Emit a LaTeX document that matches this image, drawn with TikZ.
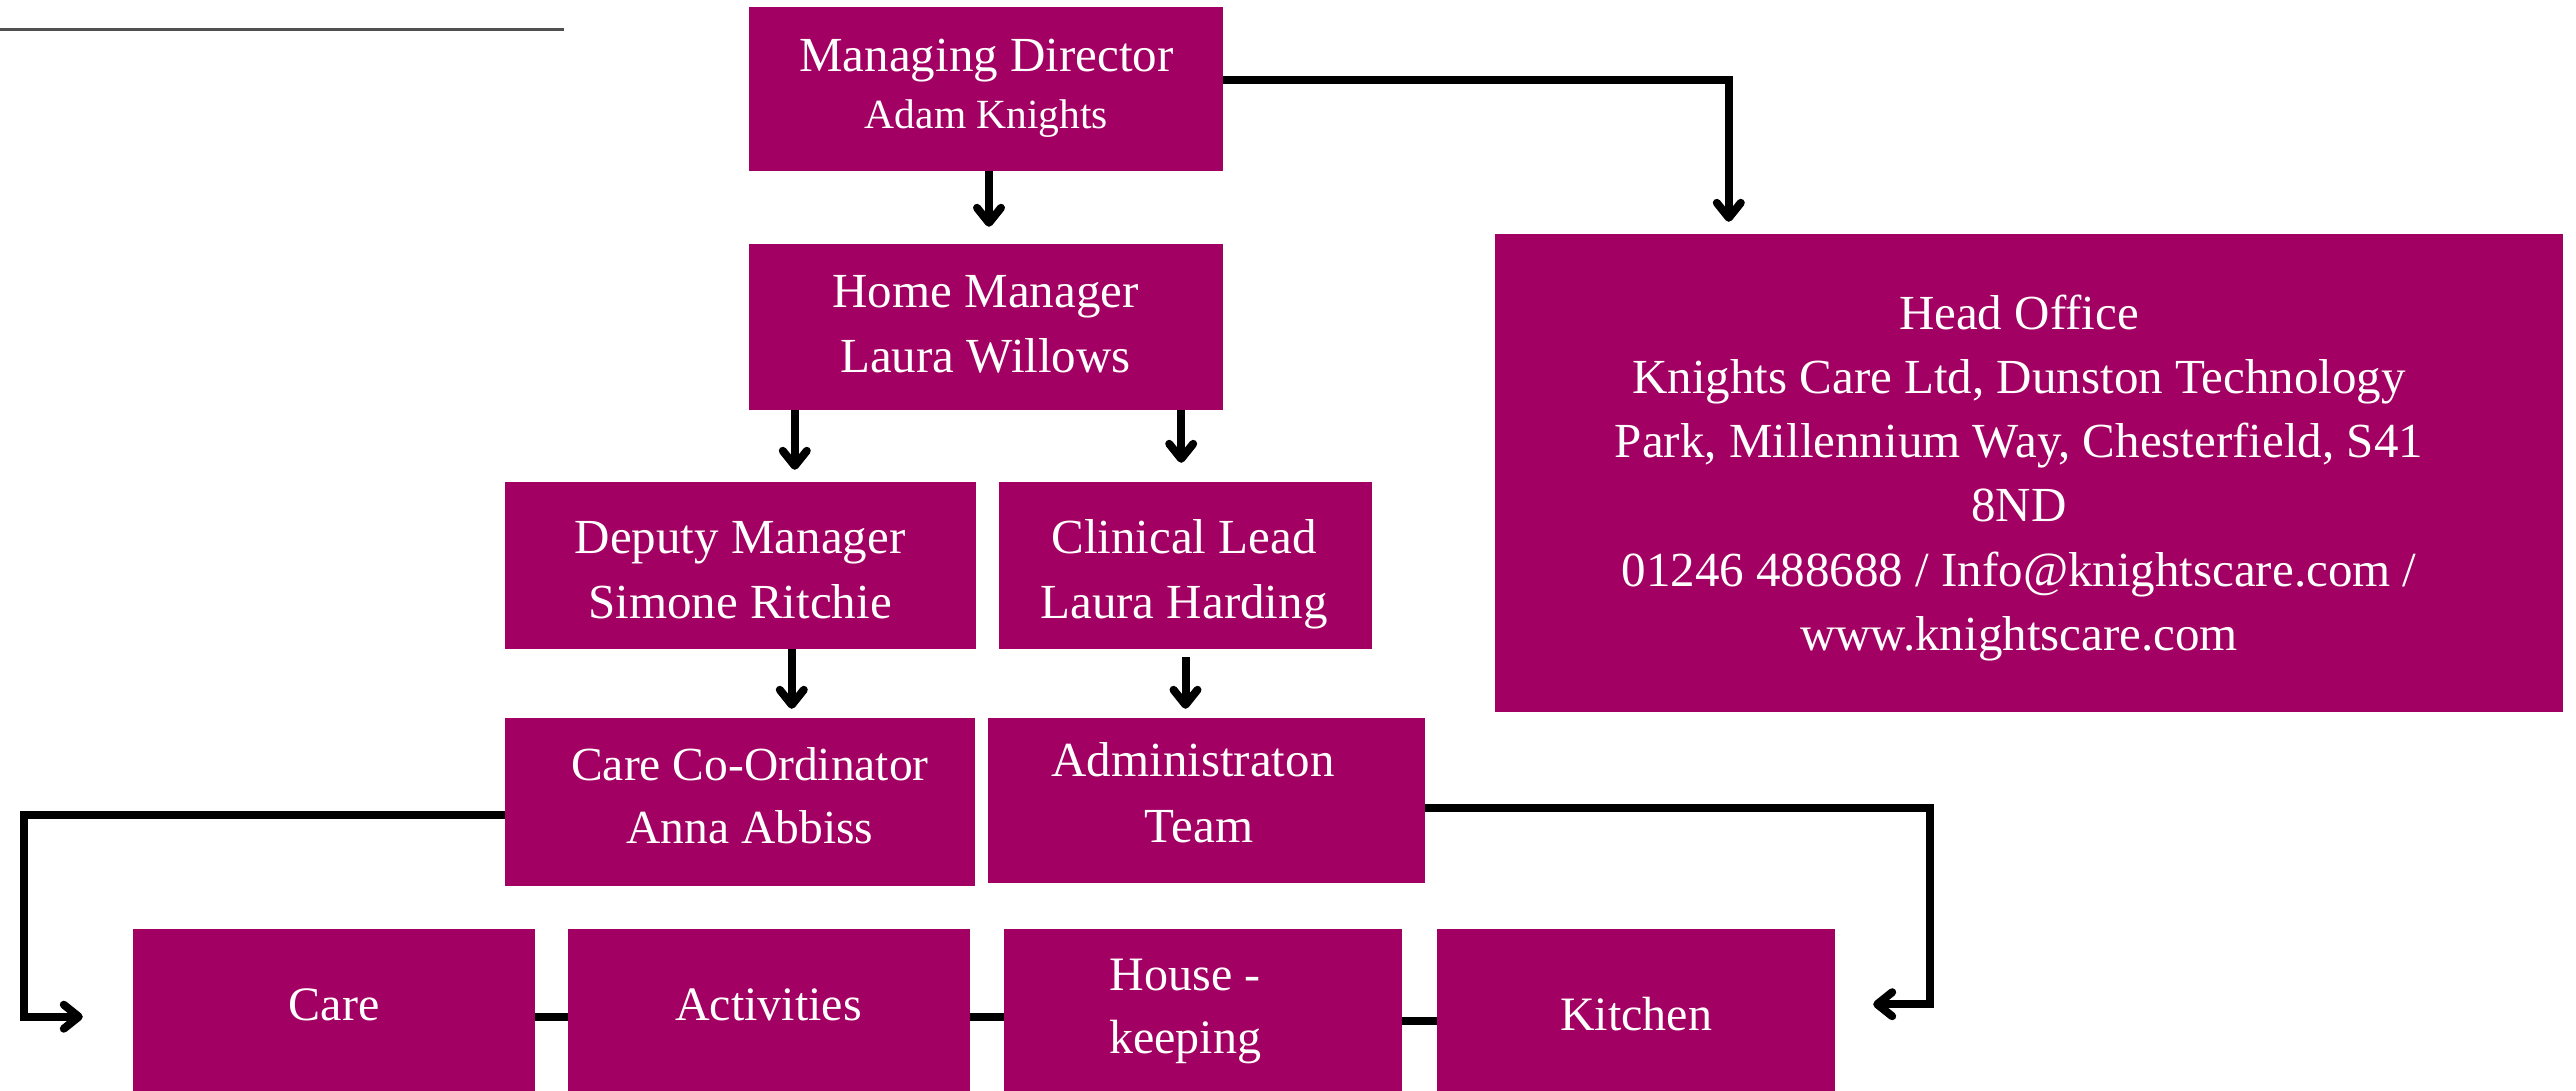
\documentclass[tikz,border=0pt]{standalone}
\usepackage{fontspec}
\setmainfont{Liberation Serif}
\usetikzlibrary{arrows.meta}
\definecolor{boxc}{RGB}{162,0,98}
\definecolor{rulegray}{RGB}{80,80,80}
\newcommand\tvph{\vphantom{d}}
\begin{document}
\begin{tikzpicture}[x=1pt,y=-1pt,
  box/.style={fill=boxc, inner sep=0pt},
  lowbox/.style={fill=boxc, inner sep=0pt, anchor=north, minimum height=175pt},
  txt/.style={text=white, inner sep=0pt, align=center, anchor=north, font=\fontsize{49}{65}\selectfont},
  lowtxt/.style={text=white, inner sep=0pt, anchor=base, font=\fontsize{48}{63}\selectfont},
  arr/.style={line width=8pt, -{Straight Barb[length=15pt,width=24pt,line cap=round,line join=round]}},
  link/.style={line width=8pt}
]
\useasboundingbox (0,0) rectangle (2576,1090);
\clip (0,0) rectangle (2576,1090);
\draw[rulegray, line width=3pt] (0,29.5) -- (564,29.5);

% upper boxes
\node[box, minimum width=474pt, minimum height=164pt] (md) at (986,89) {};
\node[box, minimum width=474pt, minimum height=166pt] (hm) at (986,327) {};
\node[box, minimum width=1068pt, minimum height=478pt] (ho) at (2029,473) {};
\node[box, minimum width=471pt, minimum height=167pt] (dm) at (740.5,565.5) {};
\node[box, minimum width=373pt, minimum height=167pt] (cl) at (1185.5,565.5) {};
\node[box, minimum width=470pt, minimum height=168pt] (cc) at (740,802) {};
\node[box, minimum width=437pt, minimum height=165pt] (ad) at (1206.5,800.5) {};

% texts of upper boxes
\node[txt, font=\fontsize{49}{57}\selectfont] (mdt) at (986.5,37.5)
  {\tvph Managing Director\\{\fontsize{41.5}{57}\selectfont Adam Knights}};
\node[txt] (hmt) at (985.5,273.5) {\tvph Home Manager\\Laura Willows};
\node[txt, font=\fontsize{49}{64.2}\selectfont] (hot) at (2019,294.5)
  {\tvph Head Office\\Knights Care Ltd, Dunston Technology\\Park, Millennium Way, Chesterfield, S41\\8ND\\01246 488688 / Info@knightscare.com /\\www.knightscare.com};
\node[txt] (dmt) at (740,519.5) {\tvph Deputy Manager\\Simone Ritchie};
\node[txt] (clt) at (1184,519.5) {\tvph Clinical Lead\\Laura Harding};
\node[txt, font=\fontsize{47.5}{63}\selectfont] (cct) at (750,747.6) {\tvph Care Co-Ordinator\\Anna Abbiss};
\node[txt, font=\fontsize{49}{66}\selectfont] (adt) at (1199,742.5) {\tvph Administraton\kern12pt\\Team};

% bottom row
\node[lowbox, minimum width=402pt] (care) at (334,929) {};
\node[lowbox, minimum width=402pt] (act) at (769,929) {};
\node[lowbox, minimum width=398pt] (house) at (1203,929) {};
\node[lowbox, minimum width=398pt] (kit) at (1636,929) {};
\node[lowtxt] (caret) at (334,1020) {Care};
\node[lowtxt] (actt) at (768.5,1020) {Activities};
\node[txt, font=\fontsize{48}{63}\selectfont] (houset) at (1185,957) {\tvph House -\\keeping};
\node[lowtxt] (kitt) at (1636,1030) {Kitchen};

\draw[link] (care.east) -- (act.west);
\draw[link] (act.east) -- (house.west);
\draw[link] ([yshift=-4pt]house.east) -- ([yshift=-4pt]kit.west);

% connectors
\coordinate (lbend) at (23.5,815);
\coordinate (rbend) at (1930,808);
\draw[arr, shorten >=17pt] ([xshift=3pt]md.south) -- ([xshift=3pt]hm.north);
\draw[arr] ([yshift=9pt]md.east) -| ([xshift=234pt,yshift=12pt]ho.north west);
\draw[arr, shorten >=12pt] ([xshift=46pt]hm.south west) -- ([xshift=46pt]hm.south west |- dm.north);
\draw[arr, shorten >=19pt] ([xshift=-42pt]hm.south east) -- ([xshift=-42pt]hm.south east |- cl.north);
\draw[arr, shorten >=9pt] ([xshift=287pt]dm.south west) -- ([xshift=287pt]dm.south west |- cc.north);
\draw[arr, shorten <=8pt, shorten >=9pt] (cl.south) -- (cl.south |- ad.north);
\draw[arr, shorten >=50pt] ([yshift=-13pt]cc.west) -- (lbend) |- (care.west);
\draw[arr, shorten >=38pt] ([yshift=-7.5pt]ad.east) -- (rbend) |- ([yshift=12.5pt]kit.east);
\end{tikzpicture}
\end{document}
